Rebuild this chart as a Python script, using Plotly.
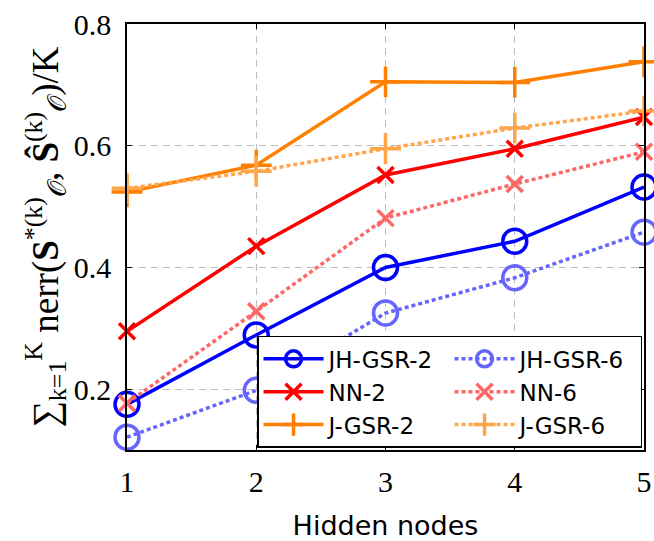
import plotly.graph_objects as go

hidden_nodes = [1, 2, 3, 4, 5]

jh_gsr_2 = [0.175, 0.289, 0.400, 0.443, 0.532]
jh_gsr_6 = [0.121, 0.198, 0.325, 0.383, 0.458]
nn_2 = [0.295, 0.435, 0.552, 0.595, 0.647]
nn_6 = [0.177, 0.328, 0.481, 0.537, 0.590]
j_gsr_2 = [0.524, 0.568, 0.705, 0.704, 0.738]
j_gsr_6 = [0.530, 0.558, 0.595, 0.629, 0.657]

x_ticks = [1, 2, 3, 4, 5]
y_ticks = [0.2, 0.4, 0.6, 0.8]

series = [
    ("JH-GSR-2", jh_gsr_2, "rgb(0,0,255)", "solid", "circle-open", 24),
    ("JH-GSR-6", jh_gsr_6, "rgb(102,102,255)", "4px,3px", "circle-open", 24),
    ("NN-2", nn_2, "rgb(255,0,0)", "solid", "x-thin-open", 16),
    ("NN-6", nn_6, "rgb(255,102,102)", "4px,3px", "x-thin-open", 16),
    ("J-GSR-2", j_gsr_2, "rgb(255,128,0)", "solid", "cross-thin-open", 22),
    ("J-GSR-6", j_gsr_6, "rgb(255,166,77)", "4px,3px", "cross-thin-open", 22),
]

fig = go.Figure()
for name, ys, color, dash, symbol, size in series:
    fig.add_trace(go.Scatter(
        x=hidden_nodes, y=ys, name=name, mode="lines+markers",
        line=dict(color=color, width=3.5, dash=dash),
        marker=dict(symbol=symbol, size=size, color=color,
                    line=dict(color=color, width=3.5)),
        cliponaxis=False,
    ))

axis_common = dict(
    showline=True, linecolor="black", linewidth=1.5, mirror="ticks",
    showgrid=True, gridcolor="rgb(190,190,190)", griddash="7px,5px", gridwidth=1,
    ticks="inside", ticklen=5, tickcolor="black", tickwidth=1,
    zeroline=False,
    tickfont=dict(family="Liberation Serif", size=30, color="black"),
)

fig.update_layout(
    width=654, height=541,
    margin=dict(l=127, r=10, t=24, b=91, autoexpand=False),
    paper_bgcolor="white", plot_bgcolor="white",
    xaxis=dict(range=[1, 5], tickvals=x_ticks, ticktext=[str(v) for v in x_ticks],
               ticklabelstandoff=4,
               title=dict(text="Hidden nodes", standoff=20,
                          font=dict(family="DejaVu Sans", size=27, color="black")),
               **axis_common),
    yaxis=dict(range=[0.1, 0.8], tickvals=y_ticks, ticktext=[f"{v:.1f}" for v in y_ticks],
               ticklabelstandoff=8,
               title=dict(text="∑<sub>k=1</sub><sup>K</sup> nerr(<b>S</b><sup>*(k)</sup><sub>𝒪</sub>, <b>Ŝ</b><sup>(k)</sup><sub>𝒪</sub>)/K",
                          standoff=4,
                          font=dict(family="Liberation Serif", size=37, color="black")),
               **axis_common),
    legend=dict(
        orientation="h", x=0.2515, xanchor="left", y=0.005, yanchor="bottom",
        bgcolor="white", bordercolor="black", borderwidth=1.5,
        font=dict(family="DejaVu Sans", size=23, color="black"),
        entrywidth=116, itemwidth=60, tracegroupgap=0,
    ),
    showlegend=True,
)

fig.write_html("out.html")
